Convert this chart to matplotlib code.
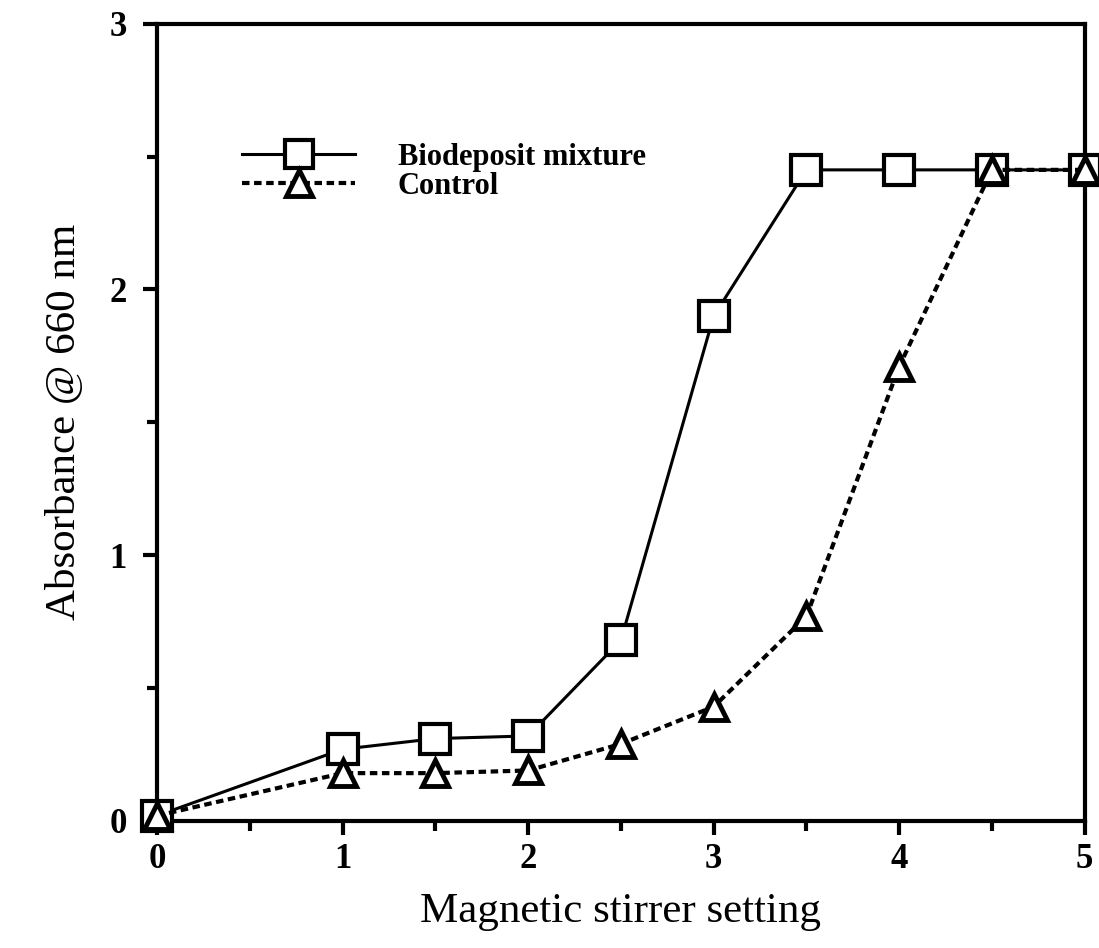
import matplotlib.pyplot as plt
import numpy as np

# stirrer settings and absorbance readings
setting = [0, 1, 1.5, 2, 2.5, 3, 3.5, 4, 4.5, 5]
biodeposit = [0.02, 0.27, 0.31, 0.32, 0.68, 1.90, 2.45, 2.45, 2.45, 2.45]
control = [0.02, 0.18, 0.18, 0.19, 0.29, 0.43, 0.77, 1.71, 2.45, 2.45]

plt.rcParams['font.family'] = ['Liberation Serif', 'DejaVu Serif']

fig = plt.figure(figsize=(10.99, 9.48), dpi=100)
ax = fig.add_axes([0.143, 0.134, 0.844, 0.841])

ax.plot(setting, biodeposit, color='black', lw=2.2, marker='s', ms=21,
        mfc='white', mec='black', mew=3, label='Biodeposit mixture',
        clip_on=False, zorder=3)
ax.plot(setting, control, color='black', lw=3, ls=(0, (1.8, 1.1)),
        marker='^', ms=19, mfc='white', mec='black', mew=3.5,
        label='Control', clip_on=False, zorder=4)

ax.set_xlim(0, 5)
ax.set_ylim(0, 3)
ax.set_xticks([0, 1, 2, 3, 4, 5])
ax.set_xticks(np.arange(0.5, 5, 1), minor=True)
ax.set_yticks([0, 1, 2, 3])
ax.set_yticks([0.5, 1.5, 2.5], minor=True)

for s in ax.spines.values():
    s.set_linewidth(3)

ax.tick_params(which='major', direction='out', length=10, width=3,
               labelsize=25, pad=6)
ax.tick_params(which='minor', direction='out', length=7, width=3)
ax.tick_params(axis='y', pad=12)
for lbl in ax.get_xticklabels() + ax.get_yticklabels():
    lbl.set_fontweight('semibold')

ax.set_xlabel('Magnetic stirrer setting', fontsize=31, labelpad=12)
ax.set_ylabel('Absorbance @ 660 nm', fontsize=31, labelpad=18)

ax.legend(loc='upper left', bbox_to_anchor=(0.062, 0.885), frameon=False,
          handlelength=3.7, handletextpad=1.4,
          labelspacing=0.0, markerscale=0.95,
          prop={'size': 22, 'weight': 'bold'})

fig.savefig('out.png', dpi=100)
